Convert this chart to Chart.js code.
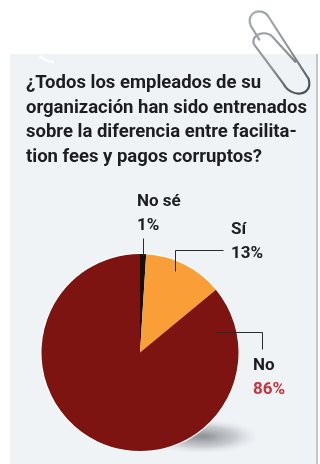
<!DOCTYPE html>
<html>
<head>
<meta charset="utf-8">
<title>Entrenamiento</title>
<style>
  html, body { margin: 0; padding: 0; background: #fff; }
  #wrap { position: relative; width: 320px; height: 464px; }
</style>
<script src="https://cdn.jsdelivr.net/npm/chart.js@4"></script>
</head>
<body>
<div id="wrap"><canvas id="pie" width="320" height="464"></canvas></div>
<script>
const titleLines = [
  '¿Todos los empleados de su',
  'organización han sido entrenados',
  'sobre la diferencia entre facilita-',
  'tion fees y pagos corruptos?'
];
const categories = ['No sé', 'Sí', 'No'];
const percents = [1, 13, 86];
const sliceColors = ['#14100f', '#fa9f38', '#7d1411'];
const valueColors = ['#1d1d1f', '#1d1d1f', '#c5333c'];

const LABEL_FONT = 'bold 17px Roboto, sans-serif';
const TITLE_FONT = 'bold 18.5px Roboto, sans-serif';

// hoja de fondo con su borde derecho
const paperPlugin = {
  id: 'paper',
  beforeDraw(chart) {
    const ctx = chart.ctx;
    ctx.save();
    ctx.fillStyle = '#fff';
    ctx.fillRect(0, 0, 320, 464);
    ctx.fillStyle = '#eff3f6';
    ctx.fillRect(10, 54, 306, 410);
    ctx.fillStyle = '#c3c7ca';
    ctx.fillRect(316, 54, 2, 410);
    // muesca en la esquina
    ctx.strokeStyle = 'rgba(255,255,255,0.85)';
    ctx.lineWidth = 3;
    ctx.beginPath();
    ctx.moveTo(40, 56);
    ctx.quadraticCurveTo(46, 62, 54, 62);
    ctx.stroke();
    // titulo
    ctx.fillStyle = '#1d1d1f';
    ctx.font = TITLE_FONT;
    ctx.textBaseline = 'alphabetic';
    titleLines.forEach((line, i) => ctx.fillText(line, 26, 88 + i * 24.6));
    ctx.restore();
  }
};

// sombra bajo el pastel y filo blanco
const shadowPlugin = {
  id: 'pieShadow',
  beforeDatasetsDraw(chart) {
    const arc = chart.getDatasetMeta(0).data[0];
    const ctx = chart.ctx;
    ctx.save();
    ctx.save();
    ctx.translate(arc.x + 62, arc.y + 84);
    ctx.scale(1, 0.3);
    const g = ctx.createRadialGradient(0, 0, 4, 0, 0, 58);
    g.addColorStop(0, 'rgba(105,110,115,0.7)');
    g.addColorStop(0.55, 'rgba(140,145,150,0.4)');
    g.addColorStop(1, 'rgba(210,215,220,0)');
    ctx.fillStyle = g;
    ctx.beginPath();
    ctx.arc(0, 0, 58, 0, Math.PI * 2);
    ctx.fill();
    ctx.restore();
    ctx.fillStyle = '#fff';
    ctx.beginPath();
    ctx.arc(arc.x, arc.y, arc.outerRadius + 1.2, 0, Math.PI * 2);
    ctx.fill();
    ctx.restore();
  }
};

// etiquetas con su línea guía, en desplazamientos desde el centro del pastel
const callouts = [
  { path: [[3, -115], [3, -98]], x: -3, y: -147 },
  { path: [[35, -82], [35, -103], [83, -103]], x: 91, y: -119 },
  { path: [[75, -21], [122, -21], [122, -4]], x: 113, y: 17 }
];

const calloutPlugin = {
  id: 'callouts',
  afterDatasetsDraw(chart) {
    const arc = chart.getDatasetMeta(0).data[0];
    const ctx = chart.ctx;
    ctx.save();
    ctx.font = LABEL_FONT;
    ctx.textBaseline = 'alphabetic';
    callouts.forEach((c, i) => {
      ctx.strokeStyle = '#2b2b2b';
      ctx.lineWidth = 1;
      ctx.beginPath();
      c.path.forEach(([dx, dy], k) => {
        const px = Math.round(arc.x + dx) + 0.5, py = Math.round(arc.y + dy) + 0.5;
        if (k === 0) ctx.moveTo(px, py); else ctx.lineTo(px, py);
      });
      ctx.stroke();
      ctx.fillStyle = '#1d1d1f';
      ctx.fillText(categories[i], arc.x + c.x, arc.y + c.y);
      ctx.fillStyle = valueColors[i];
      ctx.fillText(percents[i] + '%', arc.x + c.x, arc.y + c.y + 24);
    });
    ctx.restore();
  }
};

// clip sobre la hoja
const clipPlugin = {
  id: 'paperclip',
  afterDraw(chart) {
    const ctx = chart.ctx;
    ctx.save();
    ctx.translate(236, 5);
    ctx.scale(1 / 3, 1 / 3);
    const g = ctx.createLinearGradient(40, 20, 220, 270);
    g.addColorStop(0, '#a7abae');
    g.addColorStop(0.55, '#8f9396');
    g.addColorStop(1, '#3f4245');
    ctx.strokeStyle = g;
    ctx.lineWidth = 6.5;
    ctx.lineCap = 'round';
    ctx.lineJoin = 'round';
    ctx.beginPath();
    ctx.moveTo(178, 170);
    ctx.lineTo(112, 98);
    ctx.bezierCurveTo(90, 72, 42, 88, 54, 118);
    ctx.lineTo(142, 236);
    ctx.bezierCurveTo(165, 280, 232, 275, 218, 222);
    ctx.lineTo(98, 36);
    ctx.bezierCurveTo(80, 4, 28, 20, 44, 62);
    ctx.lineTo(70, 104);
    ctx.stroke();
    ctx.restore();
  }
};

new Chart(document.getElementById('pie'), {
  type: 'pie',
  data: {
    labels: categories,
    datasets: [{
      data: percents,
      backgroundColor: sliceColors,
      borderWidth: 0
    }]
  },
  options: {
    responsive: false,
    animation: false,
    layout: { padding: { left: 41, right: 81, top: 254, bottom: 13 } },
    plugins: {
      legend: { display: false },
      tooltip: { enabled: false }
    }
  },
  plugins: [paperPlugin, shadowPlugin, calloutPlugin, clipPlugin]
});
</script>
</body>
</html>
